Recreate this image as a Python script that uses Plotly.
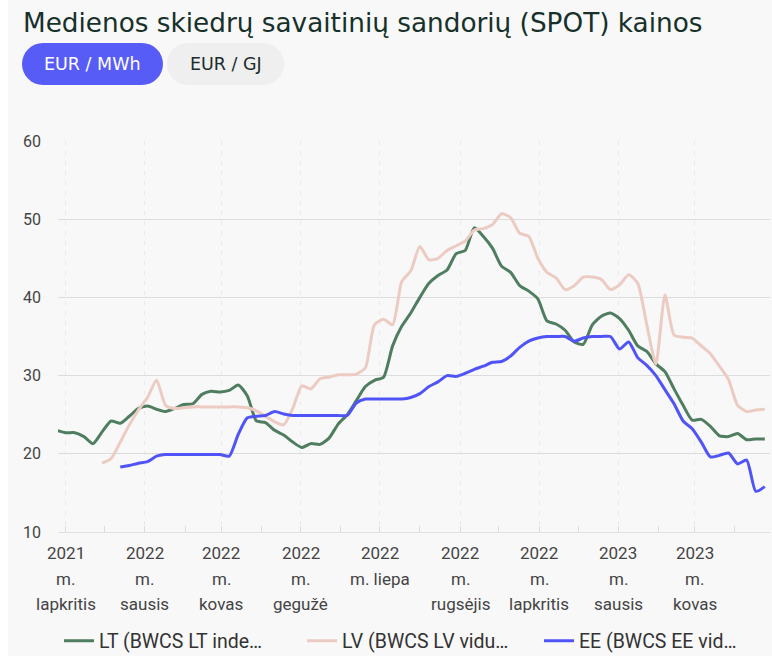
import math
import pandas as pd
import plotly.graph_objects as go

# ---------------- data ----------------
start_date = "2021-10-25"
n_weeks = 79
dates = pd.date_range(start_date, periods=n_weeks, freq="7D")

lt_values = [23.0, 22.7, 22.7, 22.2, 21.3, 22.8, 24.2, 23.9, 24.8, 25.8,
             26.1, 25.7, 25.4, 25.8, 26.3, 26.4, 27.6, 28.0, 27.9, 28.1,
             28.8, 27.4, 24.2, 24.0, 23.0, 22.4, 21.5, 20.8, 21.3, 21.2,
             22.0, 23.8, 25.0, 26.8, 28.6, 29.4, 29.8, 33.8, 36.3, 38.0,
             40.0, 41.8, 42.8, 43.5, 45.6, 46.0, 48.9, 47.8, 46.3, 44.0,
             43.2, 41.5, 40.8, 39.8, 37.0, 36.6, 35.8, 34.3, 34.0, 36.5,
             37.6, 38.0, 37.3, 35.8, 33.8, 33.1, 31.5, 30.5, 28.3, 26.2,
             24.3, 24.4, 23.5, 22.3, 22.2, 22.6, 21.8, 21.9, 21.9]

lv_values = [None, None, None, None, None, 18.8, 19.4, 21.5, 23.7, 25.6,
             27.2, 29.4, 26.2, 25.8, 25.9, 26.0, 26.0, 26.0, 26.0, 26.0,
             26.0, 25.9, 25.5, 24.8, 24.1, 23.7, 25.8, 28.7, 28.3, 29.6,
             29.8, 30.1, 30.1, 30.2, 31.0, 36.5, 37.2, 36.5, 42.0, 43.4,
             46.5, 44.8, 45.0, 46.0, 46.6, 47.2, 48.6, 48.8, 49.3, 50.7,
             50.2, 48.2, 47.8, 45.0, 43.2, 42.5, 41.0, 41.5, 42.6, 42.6,
             42.3, 41.0, 41.6, 42.9, 41.8, 36.5, 31.5, 40.3, 35.2, 34.9,
             34.8, 33.8, 32.8, 31.2, 29.5, 26.2, 25.4, 25.6, 25.7]

ee_values = [None, None, None, None, None, None, None, 18.3, 18.5, 18.8,
             19.0, 19.7, 19.9, 19.9, 19.9, 19.9, 19.9, 19.9, 19.9, 19.7,
             22.5, 24.6, 24.8, 24.9, 25.4, 25.1, 24.9, 24.9, 24.9, 24.9,
             24.9, 24.9, 24.9, 26.5, 27.0, 27.0, 27.0, 27.0, 27.0, 27.2,
             27.7, 28.6, 29.2, 30.0, 29.9, 30.3, 30.8, 31.2, 31.7, 31.8,
             32.5, 33.6, 34.4, 34.8, 35.0, 35.0, 35.0, 34.4, 34.8, 35.0,
             35.0, 35.0, 33.4, 34.3, 32.3, 31.3, 30.0, 28.2, 26.4, 24.2,
             23.2, 21.5, 19.6, 19.8, 20.1, 18.7, 19.2, 15.2, 15.8]

series_names = ["LT (BWCS LT inde…", "LV (BWCS LV vidu…", "EE (BWCS EE vid…"]

tick_dates = ["2021-11-01", "2022-01-01", "2022-03-01", "2022-05-01", "2022-07-01",
              "2022-09-01", "2022-11-01", "2023-01-01", "2023-03-01"]
tick_labels = ["2021<br>m.<br>lapkritis", "2022<br>m.<br>sausis", "2022<br>m.<br>kovas",
               "2022<br>m.<br>gegužė", "2022<br>m. liepa", "2022<br>m.<br>rugsėjis",
               "2022<br>m.<br>lapkritis", "2023<br>m.<br>sausis", "2023<br>m.<br>kovas"]
minor_dates = [d.strftime("%Y-%m-%d") for d in pd.date_range("2021-11-01", "2023-05-01", freq="MS")]

y_ticks = [10, 20, 30, 40, 50, 60]

title_text = "Medienos skiedrų savaitinių sandorių (SPOT) kainos"
button_labels = ["EUR / MWh", "EUR / GJ"]

# ---------------- layout geometry (window pixels) ----------------
OFFX = 8                      # body left margin kept (white strip)
W, H = 772 - OFFX, 656
L, R, T, B = 58, 770, 141, 532  # plot area in window pixels
PW, PH = R - L, B - T
legend_x_px = [59, 302, 539]
legend_keys = ["legend", "legend2", "legend3"]


def px2paper(x, y):
    return (x - L) / PW, (B - y) / PH


def pill_path(x0, y0, x1, y1, n=16):
    r = (y1 - y0) / 2
    cy = (y0 + y1) / 2
    pts = []
    cx = x1 - r
    for k in range(n + 1):
        a = -math.pi / 2 + math.pi * k / n
        pts.append((cx + r * math.cos(a), cy + r * math.sin(a)))
    cx = x0 + r
    for k in range(n + 1):
        a = math.pi / 2 + math.pi * k / n
        pts.append((cx + r * math.cos(a), cy + r * math.sin(a)))
    ppts = [px2paper(px, py) for px, py in pts]
    return "M " + " L ".join(f"{a:.5f},{b:.5f}" for a, b in ppts) + " Z"


colors = ["#4f7d60", "#ebcbc2", "#5054f6"]
values = [lt_values, lv_values, ee_values]

fig = go.Figure()
for name, vals, col, lg in zip(series_names, values, colors, legend_keys):
    fig.add_trace(go.Scatter(
        x=dates, y=vals, name=name, mode="lines", legend=lg,
        line=dict(color=col, width=3, shape="spline", smoothing=0.6),
        connectgaps=False,
    ))

shapes = [
    dict(type="path", xref="paper", yref="paper", path=pill_path(22, 43, 163, 85),
         fillcolor="#585cf6", line=dict(width=0), layer="above"),
    dict(type="path", xref="paper", yref="paper", path=pill_path(167, 43, 284, 85),
         fillcolor="#efefef", line=dict(width=0), layer="above"),
]

annotations = []
tx, ty = px2paper(21, 23)
annotations.append(dict(text=title_text, x=tx, y=ty, xref="paper", yref="paper",
                        xanchor="left", yanchor="middle", showarrow=False,
                        font=dict(family="DejaVu Sans, sans-serif", size=26.3, color="#17302a")))
bx, by = px2paper(92.5, 64)
annotations.append(dict(text=button_labels[0], x=bx, y=by, xref="paper", yref="paper",
                        xanchor="center", yanchor="middle", showarrow=False,
                        font=dict(family="DejaVu Sans, sans-serif", size=17.5, color="#ffffff")))
bx, by = px2paper(225.5, 64)
annotations.append(dict(text=button_labels[1], x=bx, y=by, xref="paper", yref="paper",
                        xanchor="center", yanchor="middle", showarrow=False,
                        font=dict(family="DejaVu Sans, sans-serif", size=17.5, color="#1c2b2b")))

# x tick labels, one annotation per text line (for the wider line spacing)
line_y = [553, 579, 604]
for d, lab in zip(tick_dates, tick_labels):
    for k, part in enumerate(lab.split("<br>")):
        annotations.append(dict(text=part, x=d, xref="x", y=px2paper(0, line_y[k])[1],
                                yref="paper", xanchor="center", yanchor="middle",
                                showarrow=False,
                                font=dict(family="Roboto, sans-serif", size=17, color="#444444")))

legend_layout = {}
for key, lx in zip(legend_keys, legend_x_px):
    legend_layout[key] = dict(
        orientation="h", xref="container", x=(lx - OFFX) / W, xanchor="left",
        yref="container", y=1 - 641 / H, yanchor="middle",
        font=dict(family="Roboto, sans-serif", size=19.5, color="#333333"),
        bgcolor="rgba(0,0,0,0)", itemclick=False, itemdoubleclick=False,
    )

fig.update_layout(
    width=W, height=H,
    margin=dict(l=L - OFFX, r=W - (R - OFFX), t=T, b=H - B, pad=0, autoexpand=False),
    paper_bgcolor="#f8f8f8", plot_bgcolor="#f8f8f8",
    font=dict(family="Roboto, sans-serif", size=16, color="#444444"),
    showlegend=True,
    shapes=shapes,
    annotations=annotations,
    xaxis=dict(
        type="date",
        range=["2021-10-26", "2023-04-28"],
        tickmode="array", tickvals=tick_dates, showticklabels=False,
        showgrid=True, gridcolor="#e9e9e9", griddash="4px,6px", gridwidth=1,
        ticks="inside", ticklen=6, tickcolor="#dddddd",
        minor=dict(tickmode="array", tickvals=minor_dates, ticks="inside",
                   ticklen=6, tickcolor="#dddddd", showgrid=False),
        showline=True, linecolor="#e0e0e0", linewidth=1,
        zeroline=False,
        fixedrange=True,
    ),
    yaxis=dict(
        range=[10, 60], tickmode="array", tickvals=y_ticks,
        showgrid=True, gridcolor="#dcdcdc", gridwidth=1,
        zeroline=False, showline=False, ticks="",
        tickfont=dict(family="Roboto, sans-serif", size=16, color="#444444"),
        ticklabelstandoff=16,
        fixedrange=True,
    ),
    **legend_layout,
)

fig.write_html("out.html", post_script="document.body.style.margin='0 0 0 8px';")
